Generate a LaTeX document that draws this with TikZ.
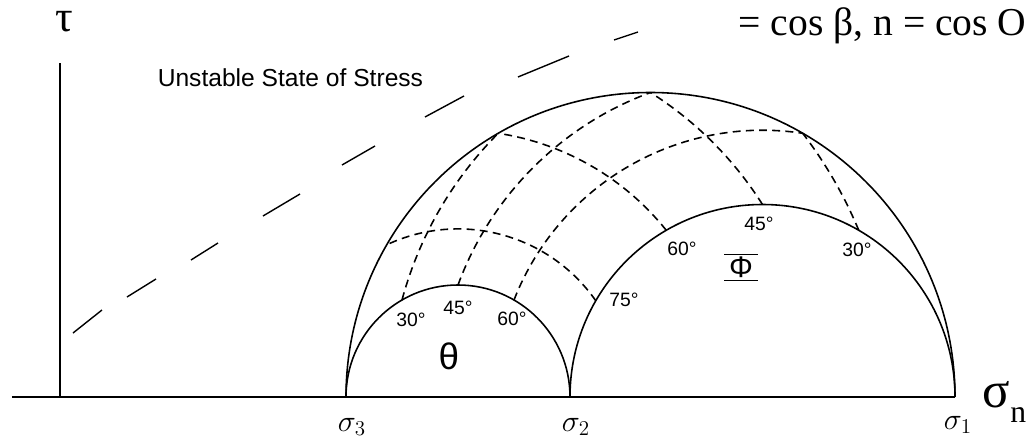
\documentclass[tikz,border=0pt]{standalone}
\usepackage{fontspec}
\setmainfont{Liberation Sans}
\newfontfamily\timesface{Liberation Serif}
\usepackage{tikz}
\usetikzlibrary{calc}

\begin{document}
\begin{tikzpicture}[line width=0.9pt,
  gridarc/.style={dash pattern=on 4.5pt off 3pt},
  deg/.style={font=\fontsize{11}{13}\selectfont,inner sep=0pt},
  sig/.style={font=\fontsize{17}{20}\selectfont,inner sep=0pt}]
\useasboundingbox (-1.2,-0.94) rectangle (19.34,7.94);
% principal stresses on the sigma_n axis
\coordinate (s3) at (5.72,0);
\coordinate (s2) at (10.2,0);
\coordinate (s1) at (17.9,0);
\coordinate (o) at (0,0);
\draw (-0.96,0) -- (s1);
\draw (o) -- (0,6.68);
\node[font=\timesface\fontsize{25}{28}\selectfont,inner sep=0pt] (tau) at (0.08,7.5) {τ};
\node[font=\timesface\fontsize{29}{32}\selectfont,inner sep=0pt,anchor=base west] (sign) at (18.44,-0.2)
  {σ\raisebox{-0.3em}{\fontsize{18}{20}\selectfont n}};
\node[font=\timesface\fontsize{22.5}{26}\selectfont,inner sep=0pt,anchor=base west] (dircos) at (13.56,7.24)
  {= cos β, n = cos O};
\node[font=\fontsize{14}{16}\selectfont,inner sep=0pt,anchor=base west] (unstable) at (1.94,6.22)
  {Unstable State of Stress};
% failure envelope
\foreach \xa/\ya/\xb/\yb in {0.26/1.28/0.84/1.74,1.34/2.0/1.92/2.36,2.62/2.74/3.16/3.08,4.06/3.62/4.8/4.06,
  5.64/4.64/6.3/5.02,7.3/5.6/8.08/6.02,9.16/6.4/10.18/6.82,11.08/7.14/11.56/7.3}
  \draw[line width=0.8pt] (\xa,\ya) -- (\xb,\yb);
% Mohr circles
\draw (s1) arc[start angle=0, end angle=180, radius=6.09];
\draw (s2) arc[start angle=0, end angle=180, radius=2.24];
\draw (s1) arc[start angle=0, end angle=180, radius=3.85];
% constant theta
\foreach \tv in {30,45,60}{
  \pgfmathsetmacro{\ang}{180-2*\tv}
  \pgfmathsetmacro{\px}{7.96+2.24*cos(\ang)}
  \pgfmathsetmacro{\py}{2.24*sin(\ang)}
  \pgfmathsetmacro{\rr}{veclen(\px-14.05,\py)}
  \pgfmathsetmacro{\xe}{12.93-(\rr*\rr-6.09*6.09)/4.48}
  \pgfmathsetmacro{\sa}{atan2(\py,\px-14.05)}
  \pgfmathsetmacro{\ea}{atan2(sqrt(6.09*6.09-(\xe-11.81)^2),\xe-14.05)}
  \draw[gridarc] (\px,\py) arc[start angle=\sa, end angle=\ea, radius=\rr];
}
% constant phi
\foreach \pv in {75,60,45,30}{
  \pgfmathsetmacro{\ang}{2*\pv}
  \pgfmathsetmacro{\px}{14.05+3.85*cos(\ang)}
  \pgfmathsetmacro{\py}{3.85*sin(\ang)}
  \pgfmathsetmacro{\rr}{veclen(\px-7.96,\py)}
  \pgfmathsetmacro{\xe}{9.885+(\rr*\rr-6.09*6.09)/7.7}
  \pgfmathsetmacro{\sa}{atan2(\py,\px-7.96)}
  \pgfmathsetmacro{\ea}{atan2(sqrt(6.09*6.09-(\xe-11.81)^2),\xe-7.96)}
  \draw[gridarc] (\px,\py) arc[start angle=\sa, end angle=\ea, radius=\rr];
}
\node[sig] (lab3) at (5.84,-0.6) {$\sigma_3$};
\node[sig] (lab2) at (10.32,-0.6) {$\sigma_2$};
\node[sig] (lab1) at (17.96,-0.56) {$\sigma_1$};
\node[deg] (t30) at (7.02,1.54) {30°};
\node[deg] (t45) at (7.96,1.78) {45°};
\node[deg] (t60) at (9.04,1.56) {60°};
\node[deg] (p75) at (11.28,1.94) {75°};
\node[deg] (p60) at (12.44,2.96) {60°};
\node[deg] (p45) at (13.98,3.46) {45°};
\node[deg] (p30) at (15.94,2.94) {30°};
\node[font=\fontsize{21}{24}\selectfont,inner sep=0pt] (theta) at (7.78,0.82) {θ};
\node[font=\fontsize{17}{20}\selectfont,inner sep=0pt] (phi) at (13.62,2.6) {$\overline{\underline{\,\mbox{Φ}\,}}$};
\end{tikzpicture}
\end{document}
